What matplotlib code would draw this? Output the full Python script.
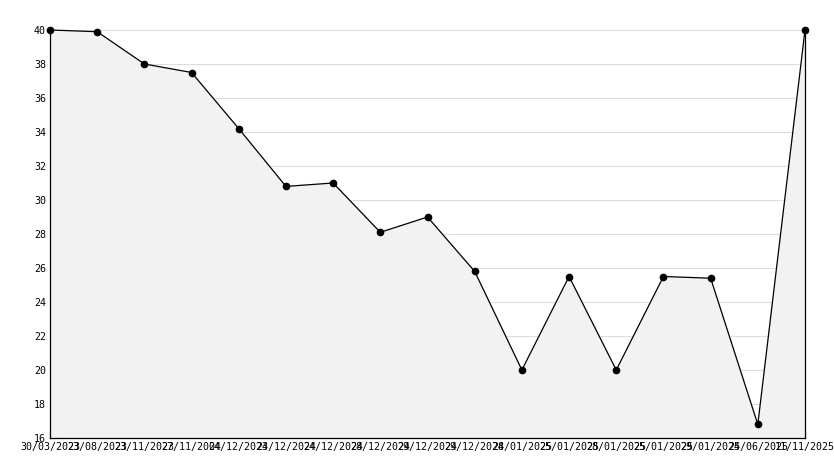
import matplotlib
matplotlib.use("Agg")
import matplotlib.pyplot as plt
from matplotlib.ticker import MultipleLocator

labels = ["30/03/2023", "23/08/2023", "23/11/2023", "27/11/2024", "04/12/2024",
          "23/12/2024", "24/12/2024", "28/12/2024", "29/12/2024", "29/12/2024",
          "28/01/2025", "25/01/2025", "28/01/2025", "25/01/2025", "29/01/2025",
          "24/06/2025", "11/11/2025"]
values = [40, 39.9, 38, 37.5, 34.2, 30.8, 31, 28.1, 29, 25.8,
          20, 25.5, 20, 25.5, 25.4, 16.8, 40]

x = list(range(len(values)))

plt.rcParams["font.family"] = "DejaVu Sans Mono"

fig = plt.figure(figsize=(8.34, 4.68), dpi=100)
ax = fig.add_axes([50/834, 30/468, 755/834, 408/468])

ax.fill_between(x, values, 16, color="#f2f2f2", zorder=1)
ax.plot(x, values, color="black", lw=0.9, marker="o", ms=4.5,
        markerfacecolor="black", zorder=3, clip_on=False)

ax.set_xlim(0, len(values) - 1)
ax.set_ylim(16, 40)
ax.yaxis.set_major_locator(MultipleLocator(2))
ax.yaxis.set_minor_locator(MultipleLocator(1))
ax.set_xticks(x)
ax.set_xticklabels(labels)
ax.grid(axis="y", color="#dddddd", lw=0.8, zorder=0)
ax.set_axisbelow(True)

ax.tick_params(axis="both", direction="in", labelsize=7.2, length=4, width=0.8, pad=3)
ax.tick_params(axis="y", which="minor", direction="in", length=3, width=0.8)
ax.spines["top"].set_visible(False)
for s in ["left", "bottom", "right"]:
    ax.spines[s].set_linewidth(0.9)

fig.savefig("out.png", dpi=100)
